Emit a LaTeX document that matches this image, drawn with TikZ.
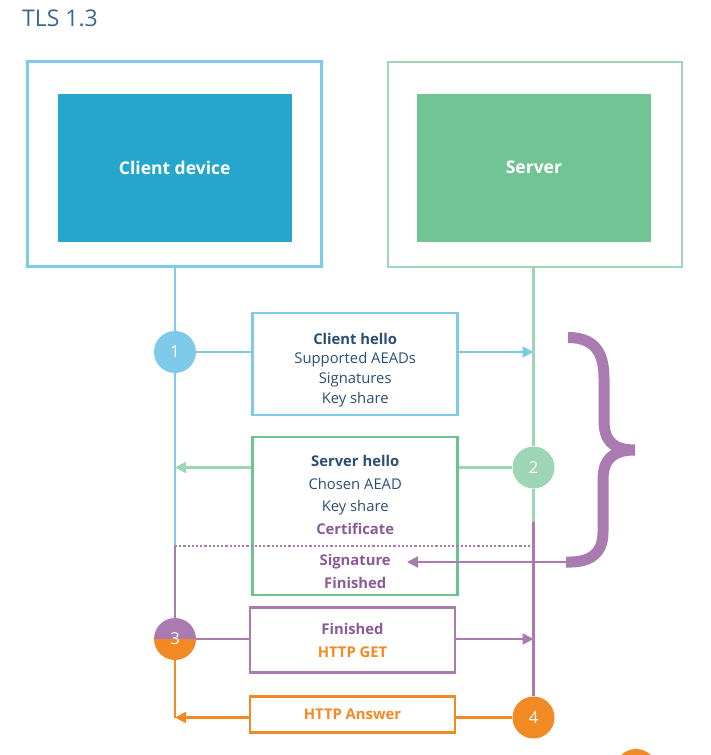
\documentclass[tikz,border=0pt]{standalone}
\usepackage{fontspec}
\setmainfont{Open Sans}
\usepackage{xcolor}
\usetikzlibrary{arrows.meta, positioning, calc}

\definecolor{tlsblue}{HTML}{7FCAE9}
\definecolor{tlsdeepblue}{HTML}{25A6CC}
\definecolor{tlsgreen}{HTML}{9FD5B7}
\definecolor{tlsdeepgreen}{HTML}{71C594}
\definecolor{tlsboxgreen}{HTML}{6BC38D}
\definecolor{tlspurple}{HTML}{A97BB1}
\definecolor{tlsdarkpurple}{HTML}{8B5A98}
\definecolor{tlsorange}{HTML}{F28A24}
\definecolor{tlstext}{HTML}{2B4E73}
\definecolor{tlstitle}{HTML}{3C6690}

\newcommand{\toppad}{\rule{0pt}{23pt}}

\tikzset{
  outerbox/.style={draw, line width=2.5pt, minimum width=294pt, minimum height=205pt, inner sep=0pt},
  devbox/.style={minimum width=234pt, minimum height=148pt, inner sep=0pt, text=white, font=\fontsize{17.5}{20}\selectfont\bfseries},
  msgbox/.style={draw, line width=2.5pt, minimum width=205pt, inner sep=0pt, align=center, text=tlstext},
  stepdot/.style={circle, minimum size=42pt, inner sep=0pt, text=white, font=\fontsize{16.5}{16}\selectfont},
  life/.style={line width=2.2pt},
  msgarrow/.style={line width=2.2pt, -{Triangle[length=11pt,width=11pt]}},
}

\begin{document}
\begin{tikzpicture}[x=1pt, y=-1pt]
    \def\cx{175}
    \def\sx{533.5}

    \useasboundingbox (0,0) rectangle (710,755);

    \node[font=\fontsize{23}{23}\selectfont, text=tlstitle, anchor=base west, inner sep=0pt] (title) at (22,26.5) {TLS 1.3};

    \node[outerbox, draw=tlsblue] (cout) at (174.5,164.2) {};
    \node[devbox, fill=tlsdeepblue] (cdev) at (174.7,167.5) {Client device};
    \node[outerbox, draw=tlsgreen] (sout) at (535,164.7) {};
    \node[devbox, fill=tlsdeepgreen] (sdev) at (533.9,167.5) {Server};

    \coordinate (cdot) at (\cx,546);
    \coordinate (cend) at (\cx,717.5);
    \coordinate (sswitch) at (\sx,521.5);
    \coordinate (bracefoot) at (566,562);
    \coordinate (sigtip) at (407,562);

    \node[stepdot, fill=tlsblue] (c1) at (\cx,352) {1};
    \node[stepdot, fill=tlsgreen] (c2) at (\sx,467.5) {2};
    \node[stepdot, path picture={
        \fill[tlspurple] (path picture bounding box.west) rectangle (path picture bounding box.north east);
        \fill[tlsorange] (path picture bounding box.south west) rectangle (path picture bounding box.east);
      }] (c3) at (\cx,639) {3};
    \node[stepdot, fill=tlsorange] (c4) at (\sx,717.5) {4};
    \node[stepdot, fill=tlsorange] (c5) at (636,770) {};

    \node[msgbox, draw=tlsblue, minimum height=102pt, font=\fontsize{14.8}{19.6}\selectfont] (chello) at (355.2,363.9)
      {\toppad\textbf{Client hello}\\Supported AEADs\\Signatures\\Key share};
    \node[msgbox, draw=tlsboxgreen, minimum height=158pt, font=\fontsize{14.8}{22.5}\selectfont] (shello) at (355.2,515.9)
      {\toppad\textbf{Server hello}\\Chosen AEAD\\Key share\\\textcolor{tlsdarkpurple}{\bfseries Certificate}\\[9pt]
       \textcolor{tlsdarkpurple}{\bfseries Signature}\\\textcolor{tlsdarkpurple}{\bfseries Finished}};
    \node[msgbox, draw=tlspurple, minimum height=64.6pt, font=\fontsize{14.8}{23}\selectfont] (fget) at (352.5,640)
      {\textcolor{tlsdarkpurple}{\bfseries Finished}\\\textcolor{tlsorange}{\bfseries HTTP GET}};
    \node[msgbox, draw=tlsorange, minimum height=36pt, font=\fontsize{14.8}{20}\selectfont] (answer) at (352.5,714.5)
      {\textcolor{tlsorange}{\bfseries HTTP Answer}};

    \draw[life, tlsblue] (cdot |- cout.south) -- (c1) -- (cdot);
    \draw[life, tlspurple] (cdot) -- (c3);
    \draw[life, tlsorange] (c3) -- (cend);
    \draw[life, tlsgreen] (sswitch |- sout.south) -- (c2) -- (sswitch);
    \draw[life, tlspurple] (sswitch) -- (c4);

    \draw[life, tlsblue] (c1) -- (c1 -| chello.west);
    \draw[msgarrow, tlsblue] (chello.east |- c1) -- (c1 -| sswitch);
    \draw[life, tlsgreen] (c2) -- (c2 -| shello.east);
    \draw[msgarrow, tlsgreen] (shello.west |- c2) -- (c2 -| cdot);
    \draw[life, tlspurple, dotted] (cdot) -- (cdot -| sswitch);
    \draw[life, tlspurple] (c3) -- (c3 -| fget.west);
    \draw[msgarrow, tlspurple] (fget.east |- c3) -- (c3 -| sswitch);
    \draw[life, tlsorange] (c4) -- (c4 -| answer.east);
    \draw[msgarrow, tlsorange] (answer.west |- c4) -- (c4 -| cend);

    \draw[tlspurple, line width=11pt] (568,337.5) .. controls (594,337.5) and (604,352) .. (604,378) -- (604,420)
      .. controls (604,440) and (612,450) .. (635,450) .. controls (612,450) and (603,460) .. (603,480) -- (603,532)
      .. controls (603,552) and (592,563) .. (bracefoot);
    \draw[msgarrow, tlspurple] (bracefoot) -- (sigtip);
\end{tikzpicture}
\end{document}
